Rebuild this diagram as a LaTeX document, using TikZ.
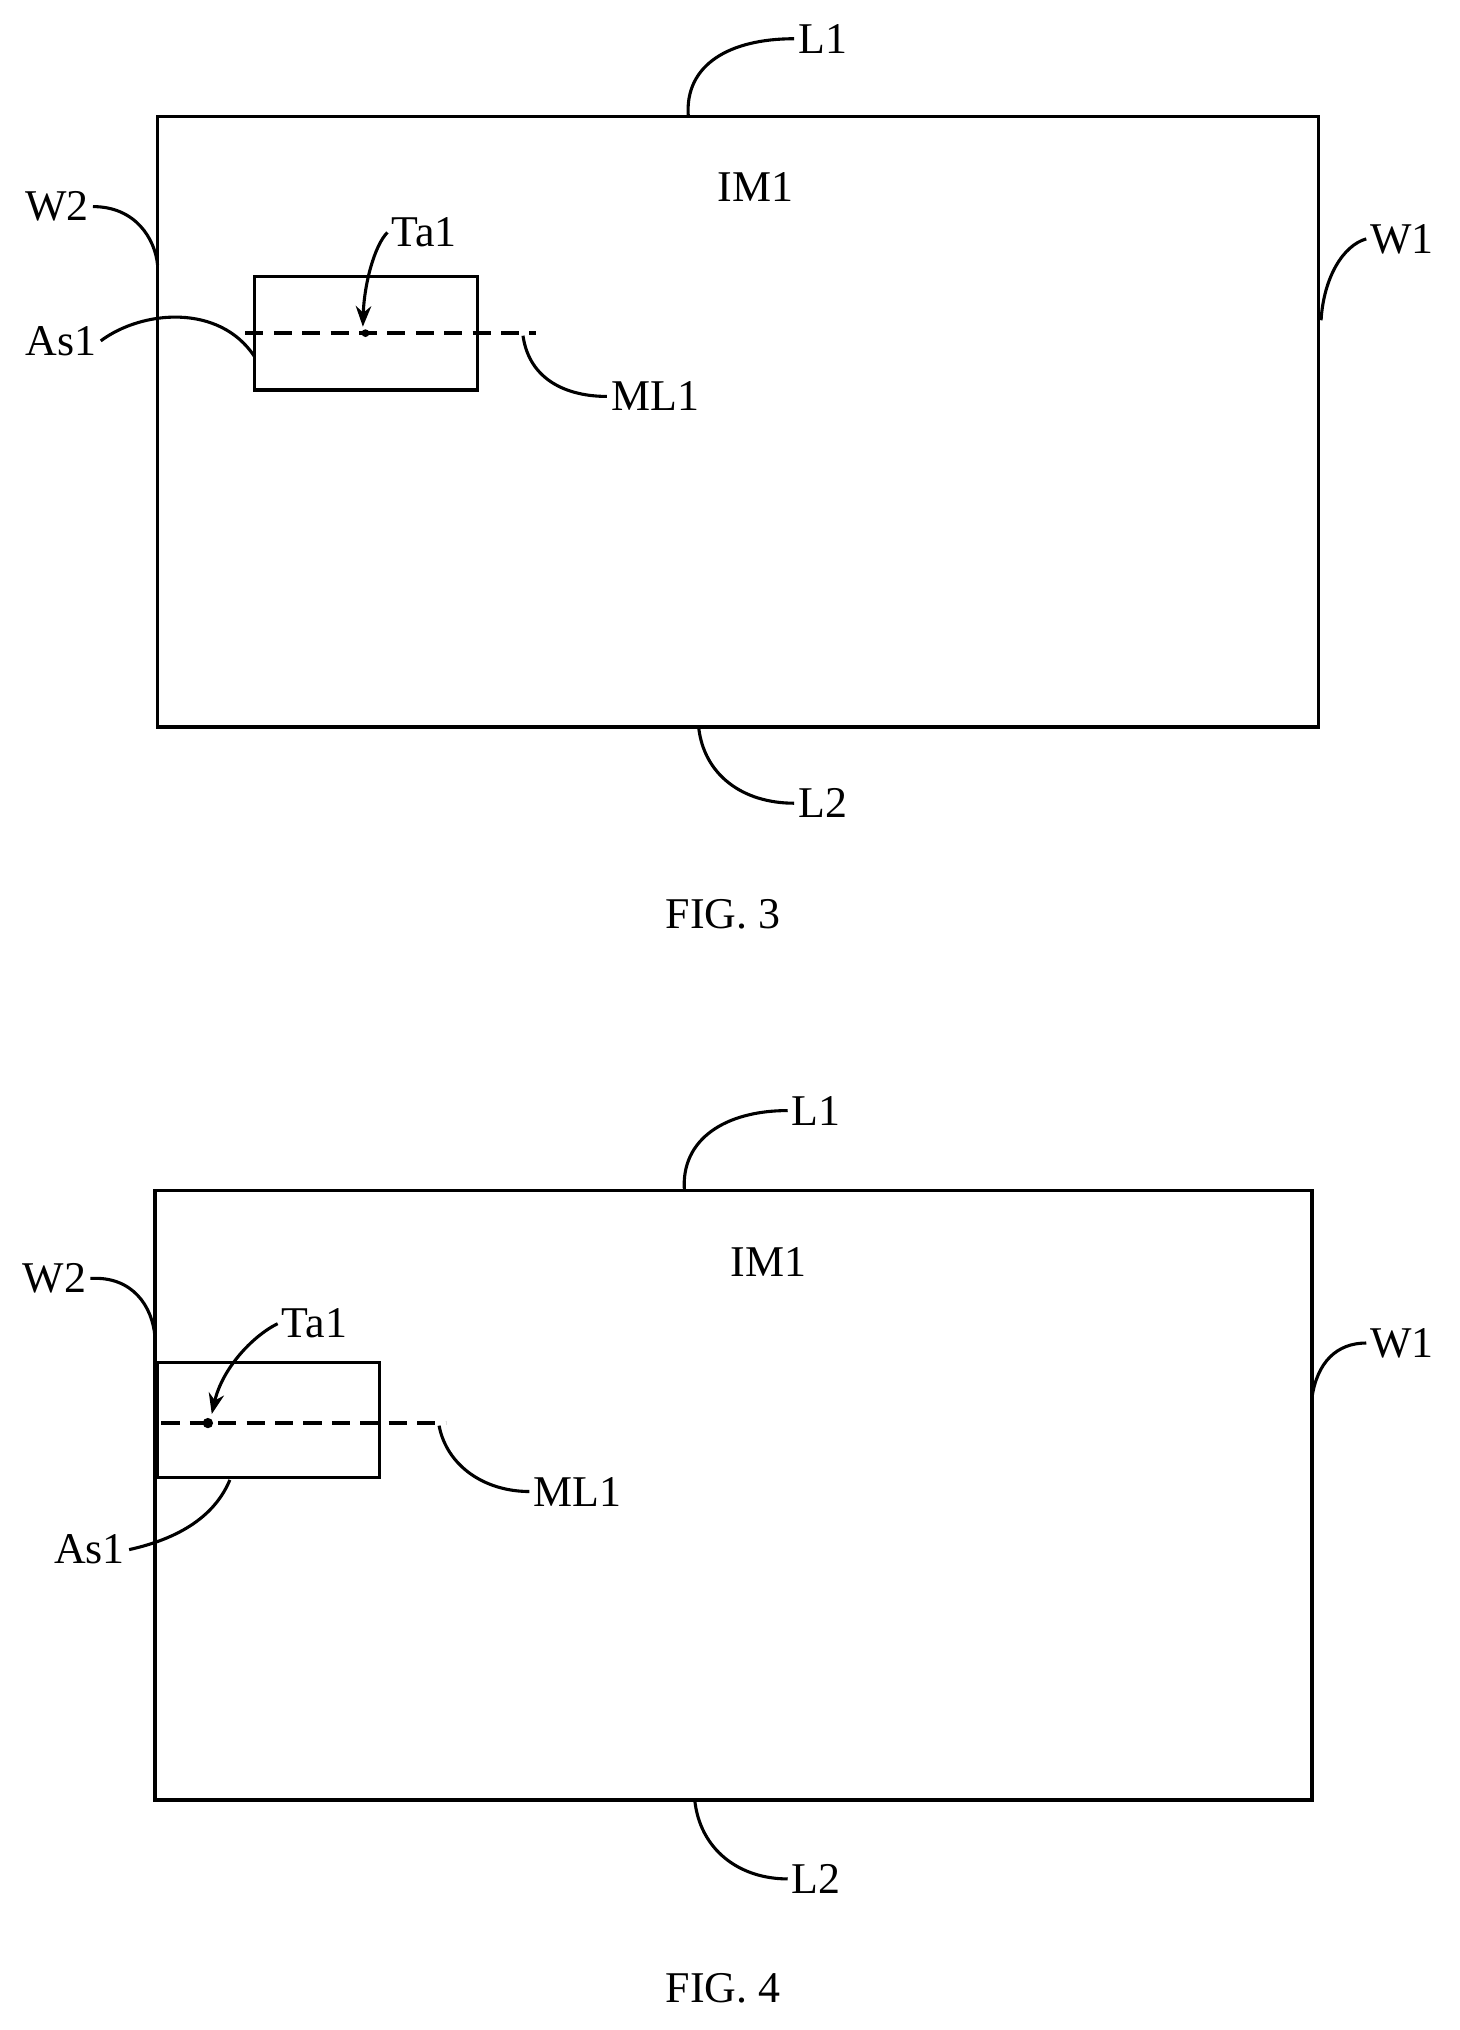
\documentclass[tikz,border=0pt]{standalone}
\usepackage{fontspec}
\setmainfont{Liberation Serif}
\usetikzlibrary{arrows.meta}
\begin{document}
\begin{tikzpicture}[x=0.5pt,y=-0.5pt,line width=1.3pt,
        lbl/.style = {font=\fontsize{17}{19}\selectfont, inner sep=1pt},
        lead/.style = {line width=1.2pt},
        ml/.style = {dash pattern=on 7pt off 4pt, line width=1.6pt},
        box/.style = {line width=1.3pt}]

        \useasboundingbox (0,0) rectangle (1130,1572);

        % FIG. 3
        \draw[box] (122,90) rectangle (1021,563);
        \node[lbl] (im3) at (585,145) {IM1};
        \node[lbl, anchor=west] (l13) at (615,30) {L1};
        \draw[lead] (533,90) .. controls (530,50) and (565,30) .. (l13.west);
        \node[lbl, anchor=west] (l23) at (615,622) {L2};
        \draw[lead] (541,563) .. controls (545,600) and (575,622) .. (l23.west);
        \node[lbl, anchor=east] (w23) at (72,160) {W2};
        \draw[lead] (w23.east) .. controls (105,160) and (120,185) .. (122,205);
        \node[lbl, anchor=west] (w13) at (1058,185) {W1};
        \draw[lead] (1023,248) .. controls (1025,215) and (1040,190) .. (w13.west);
        \draw[box] (197,214) rectangle (370,302);
        \draw[ml] (190,258) -- (415,258);
        \fill (283,258) circle (3);
        \node[lbl, anchor=west] (ta3) at (300,180) {Ta1};
        \draw[lead,-{Stealth[length=8pt,width=6pt]}] (ta3.west) .. controls (290,190) and (282,220) .. (281,253);
        \node[lbl, anchor=east] (as3) at (78,264) {As1};
        \draw[lead] (as3.east) .. controls (110,240) and (170,235) .. (197,276);
        \node[lbl, anchor=west] (ml3) at (470,307) {ML1};
        \draw[lead] (405,260) .. controls (410,295) and (440,307) .. (ml3.west);
        \node[lbl] (f3) at (560,708) {FIG. 3};

        % FIG. 4
        \draw[box] (120,922) rectangle (1016,1394);
        \node[lbl] (im4) at (595,977) {IM1};
        \node[lbl, anchor=west] (l14) at (610,860) {L1};
        \draw[lead] (530,922) .. controls (527,882) and (562,860) .. (l14.west);
        \node[lbl, anchor=west] (l24) at (610,1455) {L2};
        \draw[lead] (538,1394) .. controls (542,1432) and (572,1455) .. (l24.west);
        \node[lbl, anchor=east] (w24) at (70,990) {W2};
        \draw[lead] (w24.east) .. controls (103,988) and (118,1012) .. (120,1035);
        \node[lbl, anchor=west] (w14) at (1058,1040) {W1};
        \draw[lead] (1016,1082) .. controls (1020,1055) and (1035,1040) .. (w14.west);
        \draw[box] (122,1055) rectangle (294,1144);
        \draw[ml] (125,1102) -- (345,1102);
        \fill (161,1102) circle (4);
        \node[lbl, anchor=west] (ta4) at (215,1025) {Ta1};
        \draw[lead,-{Stealth[length=8pt,width=6pt]}] (ta4.west) .. controls (195,1035) and (172,1060) .. (164,1095);
        \node[lbl, anchor=east] (as4) at (100,1200) {As1};
        \draw[lead] (as4.east) .. controls (145,1190) and (168,1170) .. (178,1146);
        \node[lbl, anchor=west] (ml4) at (410,1155) {ML1};
        \draw[lead] (340,1104) .. controls (346,1135) and (375,1155) .. (ml4.west);
        \node[lbl] (f4) at (560,1540) {FIG. 4};
    \end{tikzpicture}
\end{document}
